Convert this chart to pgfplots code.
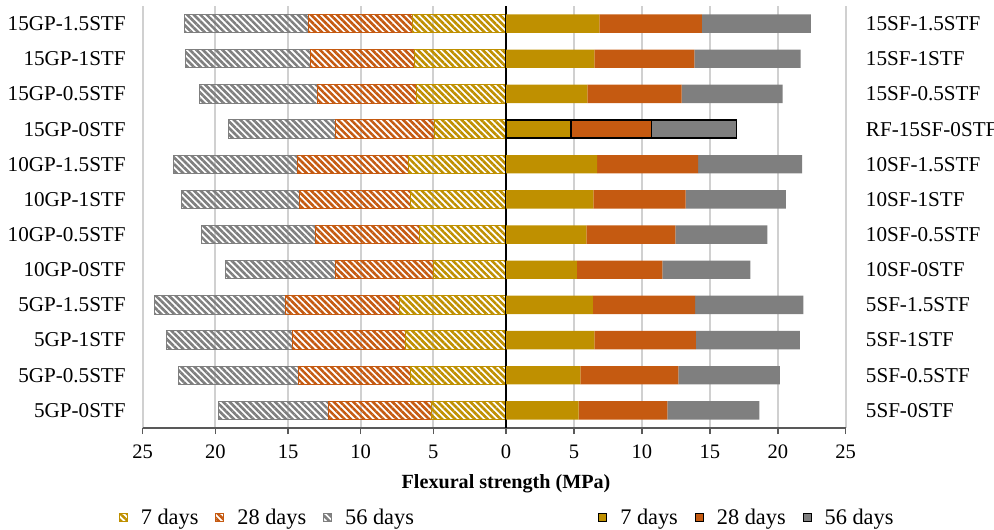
\documentclass[border=0pt]{standalone}
\usepackage{pgfplots}
\pgfplotsset{compat=1.18}
\usepackage{pgfplotstable}
\usepackage{fontspec}
\setmainfont{Liberation Serif}
\usetikzlibrary{patterns.meta}
\definecolor{cgold}{HTML}{BF9000}
\definecolor{corange}{HTML}{C55A11}
\definecolor{cgray}{HTML}{7F7F7F}
\definecolor{cgrid}{HTML}{D0D0D0}
\definecolor{caxis}{HTML}{595959}

% left (GP) stacked increments, negative = plotted to the left
\pgfplotstableread{
y  a7     a28    a56
0  -5.12  -7.11  -7.54
1  -6.60  -7.66  -8.27
2  -6.90  -7.81  -8.62
3  -7.36  -7.81  -9.04
4  -4.99  -6.73  -7.59
5  -5.95  -7.15  -7.82
6  -6.60  -7.58  -8.12
7  -6.74  -7.63  -8.50
8  -4.94  -6.78  -7.36
9  -6.16  -6.83  -8.11
10 -6.30  -7.15  -8.62
11 -6.41  -7.16  -8.55
}\gpdata

% right (SF) stacked increments (row 8 drawn separately)
\pgfplotstableread{
y  a7    a28   a56
0  5.35  6.52  6.77
1  5.47  7.21  7.48
2  6.50  7.48  7.65
3  6.40  7.51  7.97
4  5.22  6.28  6.48
5  5.91  6.55  6.77
6  6.43  6.79  7.38
7  6.70  7.43  7.67
8  0     0     0
9  5.98  6.95  7.43
10 6.50  7.36  7.82
11 6.87  7.55  8.02
}\sfdata

\pgfplotstableread{
y  a7    a28   a56
8  4.78  5.94  6.25
}\rfdata

\pgfplotsset{
  myleg/.style={legend image code/.code={\draw[##1,line width=0.5bp] (0bp,-2bp) rectangle (4bp,2bp);}},
  hatch/.style={draw=#1, line width=0.5bp, pattern={Lines[angle=-45,distance=2.3bp,line width=1.3bp]}, pattern color=#1, myleg},
  solid/.style={draw=none, fill=#1, myleg},
  common/.style={
    scale only axis, height=211bp,
    ymin=-0.5, ymax=11.5,
    xbar stacked, bar width=9.2bp,
    font=\fontsize{10.3}{12}\selectfont,
    /pgf/number format/assume math mode=true,
    ytick={0,...,11},
    yticklabel style={font=\fontsize{10.6}{12}\selectfont},
    axis x line*=bottom,
    x axis line style={color=caxis, line width=0.75bp},
    y axis line style={draw=none},
    ytick style={draw=none},
    xtick style={color=caxis, line width=0.75bp},
    tick align=outside, major tick length=3bp,
    xmajorgrids, grid style={color=cgrid, line width=1bp},
    xticklabel style={yshift=-2bp},
    legend style={draw=none, fill=none, legend columns=3,
      font=\fontsize{11.2}{13}\selectfont,
      /tikz/every odd column/.append style={column sep=4.5bp},
      /tikz/every even column/.append style={column sep=6.5bp}},
  }
}

\begin{document}
\begin{tikzpicture}
\begin{axis}[common, name=L, at={(0,0)}, anchor=south west,
  width=181.65bp,
  xmin=-25, xmax=0,
  xtick={-25,-20,-15,-10,-5},
  xticklabels={25,20,15,10,5},
  axis y line*=left,
  yticklabels={5GP-0STF,5GP-0.5STF,5GP-1STF,5GP-1.5STF,10GP-0STF,10GP-0.5STF,10GP-1STF,10GP-1.5STF,15GP-0STF,15GP-0.5STF,15GP-1STF,15GP-1.5STF},
  yticklabel style={xshift=-2bp},
  legend style={at={(0.346,-0.213)}, anchor=center},
]
\addplot[hatch=cgold] table[x=a7,y=y] {\gpdata};
\addlegendentry{7 days}
\addplot[hatch=corange] table[x=a28,y=y] {\gpdata};
\addlegendentry{28 days}
\addplot[hatch=cgray] table[x=a56,y=y] {\gpdata};
\addlegendentry{56 days}
\end{axis}

\begin{axis}[common, name=R, at={(181.65bp,0)}, anchor=south west,
  width=169.85bp,
  xmin=0, xmax=25,
  xtick={5,10,15,20,25},
  extra x ticks={0},
  extra x tick style={grid style={color=black, line width=0.6bp}},
  axis y line*=right,
  yticklabel pos=right,
  yticklabels={5SF-0STF,5SF-0.5STF,5SF-1STF,5SF-1.5STF,10SF-0STF,10SF-0.5STF,10SF-1STF,10SF-1.5STF,RF-15SF-0STF,15SF-0.5STF,15SF-1STF,15SF-1.5STF},
  yticklabel style={xshift=3.6bp},
  legend style={at={(0.712,-0.213)}, anchor=center},
]
\addplot[solid=cgold] table[x=a7,y=y] {\sfdata};
\addlegendentry{7 days}
\addplot[solid=corange] table[x=a28,y=y] {\sfdata};
\addlegendentry{28 days}
\addplot[solid=cgray] table[x=a56,y=y] {\sfdata};
\addlegendentry{56 days}
\end{axis}

\begin{axis}[scale only axis, at={(181.65bp,0)}, anchor=south west,
  width=169.85bp, height=211bp,
  xmin=0, xmax=25, ymin=-0.5, ymax=11.5,
  xbar stacked, bar width=9.2bp, hide axis]
\addplot[draw=black, line width=0.8bp, fill=cgold] table[x=a7,y=y] {\rfdata};
\addplot[draw=black, line width=0.8bp, fill=corange] table[x=a28,y=y] {\rfdata};
\addplot[draw=black, line width=0.8bp, fill=cgray] table[x=a56,y=y] {\rfdata};
\end{axis}

\node[anchor=base, font=\fontsize{10.1}{12}\selectfont\bfseries] at (181.65bp,-30bp) {Flexural strength (MPa)};
\pgfresetboundingbox
\path[use as bounding box] (-71.35bp,-51bp) rectangle (425.65bp,214bp);
\end{tikzpicture}
\end{document}
